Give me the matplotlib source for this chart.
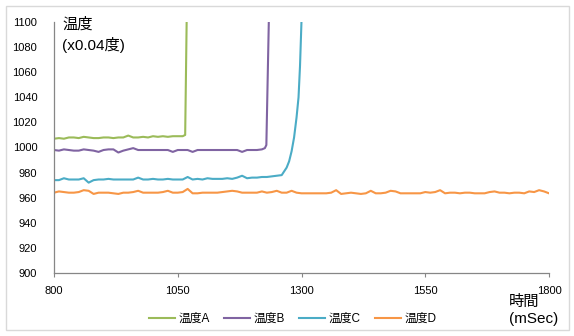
import matplotlib
matplotlib.use("Agg")
import matplotlib.pyplot as plt
from matplotlib.patches import Rectangle

plt.rcParams['font.family'] = ['Liberation Sans', 'Noto Sans CJK JP', 'DejaVu Sans']

# ---- data ----
t_a = [800, 810, 820, 830, 840, 850, 860, 870, 880, 890, 900, 910, 920, 930, 940,
       950, 960, 970, 980, 990, 1000, 1010, 1020, 1030, 1040, 1050, 1060, 1065, 1068]
temp_a = [1007, 1007.5, 1007, 1008, 1008, 1007.5, 1008.5, 1008, 1007.5, 1007.5, 1008,
          1008, 1007.5, 1008, 1008, 1009.5, 1008, 1008, 1008.5, 1008, 1009, 1008.5,
          1009, 1008.5, 1009, 1009, 1009, 1010, 1101]

t_b = [800, 810, 820, 830, 840, 850, 860, 870, 880, 890, 900, 910, 920, 930, 940,
       950, 960, 970, 980, 990, 1000, 1010, 1020, 1030, 1040, 1050, 1060, 1070, 1080,
       1090, 1100, 1110, 1120, 1130, 1140, 1150, 1160, 1170, 1180, 1190, 1200, 1210,
       1220, 1226, 1229, 1234]
temp_b = [998, 997.5, 998.5, 998, 997.5, 997.5, 998.5, 998, 997.5, 996.5, 998, 998.5,
          998.5, 996, 997.5, 998.5, 999.5, 998, 998, 998, 998, 998, 998, 998, 996.5,
          998, 998, 998, 996.5, 998, 998, 998, 998, 998, 998, 998, 998, 998, 996.5,
          998, 998, 998, 998.5, 999.5, 1002, 1101]

t_c = [800, 810, 820, 830, 840, 850, 860, 870, 880, 890, 900, 910, 920, 930, 940,
       950, 960, 970, 980, 990, 1000, 1010, 1020, 1030, 1040, 1050, 1060, 1070, 1080,
       1090, 1100, 1110, 1120, 1130, 1140, 1150, 1160, 1170, 1180, 1190, 1200, 1210,
       1220, 1230, 1240, 1250, 1260, 1265, 1270, 1275, 1280, 1285, 1290, 1294, 1297, 1300]
temp_c = [974, 974, 975.5, 974.5, 974.5, 974.5, 975.5, 972, 974, 974.5, 974.5, 975,
          974.5, 974.5, 974.5, 974.5, 974.5, 976, 974.5, 974.5, 975, 974.5, 974.5, 975,
          974.5, 974.5, 974.5, 976.5, 974.5, 975, 974.5, 975.5, 975, 975, 975, 975.5,
          975, 976, 977.5, 975.5, 976, 976, 976.5, 976.5, 977, 977.5, 978, 981, 984,
          989, 997, 1008, 1024, 1040, 1065, 1101]

t_d = list(range(800, 1801, 10))
temp_d = [964, 965, 964.5, 964, 964, 964.5, 966, 965.5, 963, 964, 964, 964, 963.5, 963,
          964, 964, 964.5, 965.5, 964, 964, 964, 964, 964.5, 965.5, 964, 964, 964.5,
          967, 963.5, 963.5, 964, 964, 964, 964, 964.5, 965, 965.5, 965, 964, 964, 964,
          964, 965, 964, 964.5, 965.5, 964, 964, 965.5, 964, 963.5, 963.5, 963.5, 963.5,
          963.5, 963.5, 964, 966, 963, 963.5, 964, 963.5, 963, 963.5, 965.5, 963.5,
          963.5, 964, 965.5, 965, 963.5, 963.5, 963.5, 963.5, 963.5, 964.5, 964, 964.5,
          966, 963.5, 964, 964, 963.5, 964, 964, 963.5, 963.5, 963.5, 964.5, 965, 964,
          964, 963.5, 964, 964, 963.5, 965, 964.5, 966, 965, 963.5]

labels = ['温度A', '温度B', '温度C', '温度D']
colors = ['#9BBB59', '#8064A2', '#4BACC6', '#F79646']
x_ticks = [800, 1050, 1300, 1550, 1800]
y_ticks = list(range(900, 1101, 20))

# ---- figure ----
fig = plt.figure(figsize=(5.74, 3.36), dpi=100)
fig.patches.append(Rectangle((6 / 574, 6 / 336), 563 / 574, 324 / 336,
                             transform=fig.transFigure, fill=False,
                             edgecolor='#d9d9d9', lw=1.0))
ax = fig.add_axes([54 / 574, 1 - 273 / 336, 495 / 574, 251 / 336])

for t, v, lab, c in zip([t_a, t_b, t_c, t_d], [temp_a, temp_b, temp_c, temp_d],
                        labels, colors):
    ax.plot(t, v, color=c, lw=1.5, label=lab)

ax.set_xlim(800, 1800)
ax.set_ylim(900, 1100)
ax.set_xticks(x_ticks)
ax.set_yticks(y_ticks)
for s in ['top', 'right']:
    ax.spines[s].set_visible(False)
for s in ['left', 'bottom']:
    ax.spines[s].set_color('#868686')
    ax.spines[s].set_linewidth(0.9)
ax.tick_params(axis='y', length=0, pad=12, labelsize=8)
ax.tick_params(axis='x', length=3, color='#868686', pad=6, labelsize=8)

fig.text(62 / 574, 1 - 17 / 336, '温度\n(x0.04度)', fontsize=11, va='top',
         ha='left', linespacing=1.45)
fig.text(509 / 574, 1 - 295 / 336, '時間\n(mSec)', fontsize=11, va='top',
         ha='left', linespacing=1.3)

fig.legend(loc='center', bbox_to_anchor=(293 / 574, 1 - 319 / 336), ncol=4,
           frameon=False, fontsize=8.5, handlelength=2.2, handletextpad=0.3,
           columnspacing=1.2)

fig.savefig('out.png', dpi=100)
